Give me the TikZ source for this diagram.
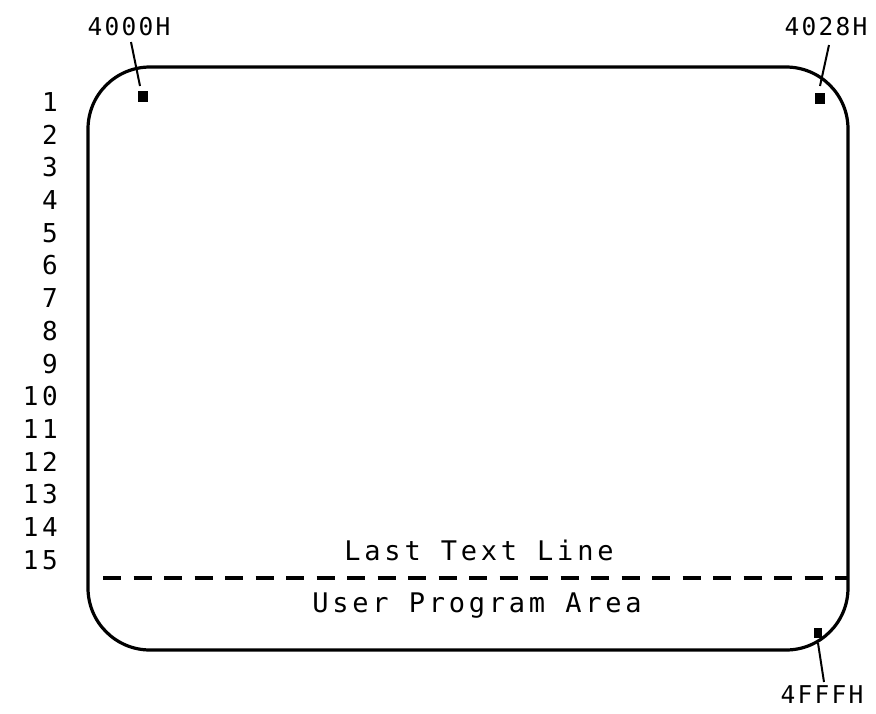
\documentclass[tikz,border=0pt]{standalone}
\usepackage{fontspec}
\newfontfamily\plotfont[LetterSpace=14]{DejaVu Sans Mono}
\newfontfamily\addrfont[LetterSpace=9]{DejaVu Sans Mono}
\begin{document}
\begin{tikzpicture}[x=1pt,y=-1pt,
  screen/.style={line width=3.2pt},
  leader/.style={line width=2pt},
  marker/.style={fill=black,draw=none,minimum width=10pt,minimum height=11pt,inner sep=0pt},
  addr/.style={font=\addrfont\fontsize{24.5}{26}\selectfont,inner sep=0pt},
  rowlbl/.style={font=\plotfont\fontsize{26}{28}\selectfont,inner sep=0pt,anchor=east},
  area/.style={font=\plotfont\fontsize{27}{30}\selectfont,inner sep=0pt},
  sep/.style={line width=3.4pt,dash pattern=on 18pt off 12.5pt}]
\useasboundingbox (0,0) rectangle (876,713);
% screen outline
\draw[screen,rounded corners=62pt] (88,67) rectangle (848,650);
% separator
\coordinate (sepL) at (103,578);
\coordinate (sepR) at (848,578);
\draw[sep] (sepL) -- (sepR);
% area texts
\node[area] (last) at (479,550) {Last Text Line};
\node[area] (upa) at (477,606) {User Program Area};
% markers
\node[marker] (m1) at (143,96) {};
\node[marker] (m2) at (820,98) {};
\node[marker,minimum width=8pt,minimum height=10pt] (m3) at (818,633) {};
% address labels
\node[addr] (a1) at (129,27) {4000H};
\node[addr] (a2) at (826,27) {4028H};
\node[addr] (a3) at (822,695) {4FFFH};
% leaders
\coordinate (l1a) at (131,42);
\coordinate (l1b) at (140,86);
\coordinate (l2a) at (829,45);
\coordinate (l2b) at (820,86);
\coordinate (l3a) at (818,643);
\coordinate (l3b) at (824,682);
\draw[leader] (l1a) -- (l1b);
\draw[leader] (l2a) -- (l2b);
\draw[leader] (l3a) -- (l3b);
% row numbers
\foreach \i in {1,...,15}{
  \node[rowlbl] (r\i) at (58,{102+32.7*(\i-1)}) {\i};
}
\end{tikzpicture}
\end{document}
